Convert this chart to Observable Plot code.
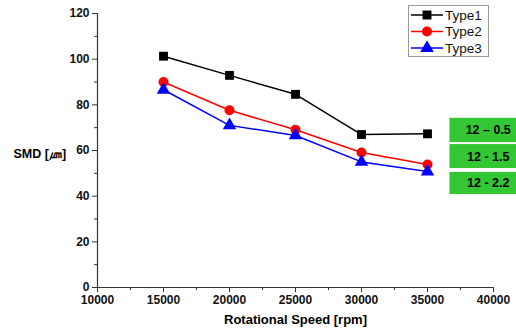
<!DOCTYPE html>
<html><head><meta charset="utf-8">
<script src="https://cdn.jsdelivr.net/npm/d3@7"></script>
<script src="https://cdn.jsdelivr.net/npm/@observablehq/plot@0.6"></script>
<style>body{margin:0;background:#fff;font-family:"Liberation Sans",Arial,sans-serif}</style>
</head><body><div id="chart"></div>
<script>
const speeds = [15000, 20000, 25000, 30000, 35000];
const type1 = [101.3, 92.9, 84.6, 67.0, 67.3];
const type2 = [90.0, 77.6, 69.1, 59.1, 53.9];
const type3 = [86.6, 71.0, 66.6, 55.0, 50.8];
const seriesNames = ["Type1", "Type2", "Type3"];
const seriesColors = ["#000000", "#ff0000", "#0000ff"];
const seriesSymbols = ["square", "circle", "triangle"];
const xTicks = [10000, 15000, 20000, 25000, 30000, 35000, 40000];
const xMinor = [12500, 17500, 22500, 27500, 32500, 37500];
const yTicks = [0, 20, 40, 60, 80, 100, 120];
const yMinor = [10, 30, 50, 70, 90, 110];
const boxLabels = ["12 \u2013 0.5", "12 - 1.5", "12 - 2.2"];
const boxTop = [74.1, 62.6, 50.4];
const boxBottom = [63.5, 52.1, 40.7];
const boxLeft = 36700, boxRight = 42500;

const all = [type1, type2, type3];
const data = [];
all.forEach((vals, i) => vals.forEach((v, j) => data.push({series: seriesNames[i], x: speeds[j], y: v})));
const boxes = boxLabels.map((l, i) => ({label: l, y1: boxTop[i], y2: boxBottom[i]}));

const font = {fontFamily: "Liberation Sans, Arial, sans-serif", fontWeight: "bold", fontSize: 12, fill: "#111"};

const chart = Plot.plot({
  width: 516, height: 335,
  marginLeft: 97, marginRight: 23, marginTop: 13, marginBottom: 48,
  style: {background: "#fff", overflow: "visible"},
  x: {domain: [10000, 40000], axis: null},
  y: {domain: [0, 120], axis: null},
  color: {domain: seriesNames, range: seriesColors},
  symbol: {domain: seriesNames, range: seriesSymbols},
  marks: [
    Plot.axisX({ticks: xTicks, tickSize: 5, tickPadding: 3, tickFormat: d => String(d), label: null, ...font, stroke: "#333"}),
    Plot.axisX({ticks: xMinor, tickSize: 3, text: null, label: null, stroke: "#333"}),
    Plot.axisY({ticks: yTicks, tickSize: 5, tickPadding: 3, tickFormat: d => String(d), label: null, ...font, stroke: "#333"}),
    Plot.axisY({ticks: yMinor, tickSize: 3, text: null, label: null, stroke: "#333"}),
    Plot.ruleX([10000], {stroke: "#333", strokeWidth: 1.2}),
    Plot.ruleY([0], {stroke: "#333", strokeWidth: 1.2}),
    Plot.line(data, {x: "x", y: "y", z: "series", stroke: "series", strokeWidth: 1.5}),
    Plot.dot(data, {x: "x", y: "y", fill: "series", symbol: "series", r: 5, stroke: "none"}),
    Plot.rect(boxes, {x1: boxLeft, x2: boxRight, y1: "y1", y2: "y2", fill: "#33c733", clip: false}),
    Plot.text(boxes, {x: (boxLeft + boxRight) / 2, y: d => (d.y1 + d.y2) / 2, text: "label", ...font, fontSize: 12.5, fill: "#000"}),
    Plot.text(["SMD [\u339B]"], {frameAnchor: "left", dx: -84, dy: 3, textAnchor: "start", ...font, fontSize: 12.5, fill: "#000"}),
    Plot.text(["Rotational Speed [rpm]"], {frameAnchor: "bottom", dy: 36, ...font, fontSize: 13, fill: "#000"})
  ]
});

// legend box (pixel-positioned annotation)
const svg = d3.select(chart);
const lg = svg.append("g").attr("text-anchor", "start");
lg.append("rect").attr("x", 408.5).attr("y", 5.5).attr("width", 80).attr("height", 51)
  .attr("fill", "#fff").attr("stroke", "#999").attr("stroke-width", 1);
const sym = {square: d3.symbolSquare, circle: d3.symbolCircle, triangle: d3.symbolTriangle};
seriesNames.forEach((name, i) => {
  const cy = 15 + i * 16.5;
  lg.append("line").attr("x1", 411).attr("x2", 443).attr("y1", cy).attr("y2", cy)
    .attr("stroke", seriesColors[i]).attr("stroke-width", 1.5);
  lg.append("path").attr("transform", `translate(427,${cy})`)
    .attr("d", d3.symbol(sym[seriesSymbols[i]], 80)()).attr("fill", seriesColors[i]);
  lg.append("text").attr("x", 445).attr("y", cy).attr("dy", "0.35em")
    .attr("text-anchor", "start")
    .attr("font-family", "Liberation Sans, Arial, sans-serif").attr("font-size", 13.5)
    .attr("fill", "#111").text(name);
});

document.getElementById("chart").appendChild(chart);
</script>
</body></html>
